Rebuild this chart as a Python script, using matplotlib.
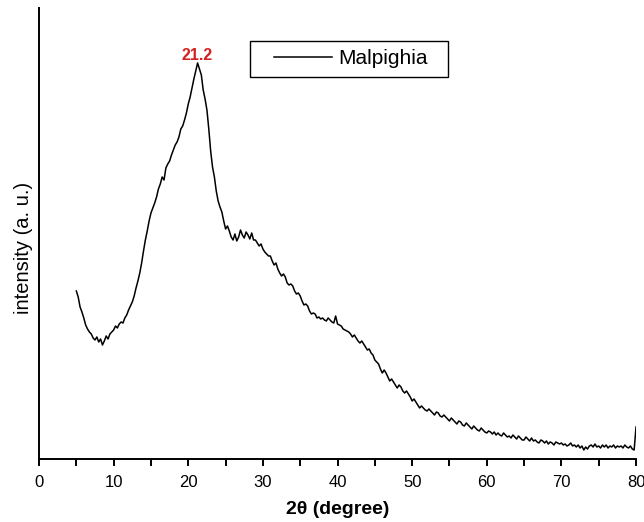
import matplotlib.pyplot as plt
from matplotlib.patches import Rectangle
import numpy as np

# 2theta positions (degree), every 0.25 deg from 5 to 80
two_theta = np.arange(5.0, 80.001, 0.25)

# intensity (a.u.), 4 values per degree
intensity = [
    168, 162, 152, 147,  141, 134, 130, 127,  125, 121, 119, 122,   # 5-7
    117, 120, 114, 118,  123, 120, 125, 127,  129, 133, 131, 135,   # 8-10
    137, 136, 141, 144,  149, 153, 157, 163,  171, 178, 186, 196,   # 11-13
    208, 219, 228, 238,  246, 251, 256, 262,  270, 275, 282, 279,   # 14-16
    291, 295, 298, 304,  309, 314, 317, 322,  330, 333, 339, 346,   # 17-19
    355, 362, 371, 380,  388, 396, 390, 384,  369, 360, 349, 330,   # 20-22
    308, 292, 282, 268,  258, 252, 247, 238,  230, 233, 228, 222,   # 23-25
    219, 225, 218, 222,  229, 224, 221, 227,  224, 220, 226, 219,   # 26-28
    219, 216, 213, 215,  210, 207, 205, 203,  203, 198, 194, 196,   # 29-31
    190, 186, 183, 185,  182, 176, 174, 175,  173, 168, 165, 166,   # 32-34
    163, 158, 154, 155,  153, 148, 145, 146,  145, 141, 142, 140,   # 35-37
    141, 139, 138, 141,  139, 137, 136, 143,  135, 134, 133, 130,   # 38-40
    129, 128, 127, 125,  122, 124, 121, 118,  116, 118, 115, 112,   # 41-43
    109, 110, 106, 104,  99, 97, 95, 90,      86, 89, 86, 82,       # 44-46
    78, 80, 77, 74,      71, 74, 72, 68,      66, 68, 65, 62,       # 47-49
    58, 60, 57, 54,      51, 53, 51, 49,      48, 50, 48, 46,       # 50-52
    44, 47, 46, 43,      42, 44, 42, 40,      38, 41, 39, 37,       # 53-55
    35, 38, 37, 34,      33, 36, 34, 32,      30, 33, 31, 29,       # 56-58
    28, 31, 29, 27,      26, 28, 27, 25,      27, 24, 26, 24,       # 59-61
    23, 26, 24, 22,      23, 21, 24, 22,      20, 23, 21, 19,       # 62-64
    19, 22, 20, 18,      21, 18, 19, 17,      16, 19, 18, 16,       # 65-67
    18, 15, 17, 16,      14, 17, 16, 15,      16, 14, 15, 13,       # 68-70
    14, 16, 13, 14,      12, 14, 11, 13,      9, 12, 10, 13,        # 71-73
    14, 12, 15, 12,      13, 11, 14, 12,      14, 11, 13, 12,       # 74-76
    14, 11, 13, 12,      13, 11, 14, 12,      11, 13, 10, 9,        # 77-79
    32,                                                             # 80
]

peak_x = 21.2
peak_label = "21.2"
series_name = "Malpighia"

fig = plt.figure(figsize=(6.44, 5.22), dpi=100)
ax = fig.add_axes([0.0606, 0.1207, 0.927, 0.864])

ax.plot(two_theta, intensity, color='black', lw=1.1, label=series_name)

ax.set_xlim(0, 80)
ax.set_ylim(0, 451)
ax.set_xticks(np.arange(0, 81, 10))
ax.set_xticks(np.arange(5, 80, 10), minor=True)
ax.set_yticks([])
for side in ['top', 'right']:
    ax.spines[side].set_visible(False)
for side in ['left', 'bottom']:
    ax.spines[side].set_linewidth(1.4)
ax.tick_params(axis='x', which='both', direction='out', length=5, width=1.4)
ax.tick_params(axis='x', labelsize=12, pad=6.5)
for lab in ax.get_xticklabels():
    lab.set_family('Liberation Sans')

ax.set_xlabel("2θ (degree)", fontsize=14, fontweight='bold',
              family='Liberation Sans', labelpad=8)
ax.set_ylabel("intensity (a. u.)", fontsize=14.5, family='Liberation Sans')
ax.yaxis.set_label_coords(-0.01, 0.468)

ax.text(peak_x, 399, peak_label, color='#d42020', fontsize=11.5,
        fontweight='bold', ha='center', va='baseline', family='Liberation Sans')

# legend box
ax.add_patch(Rectangle((0.3534, 0.847), 0.3316, 0.080, transform=ax.transAxes,
                       fill=False, edgecolor='black', lw=1.0))
ax.legend(loc='center', bbox_to_anchor=(0.522, 0.887),
          prop={'family': 'Liberation Sans', 'size': 15},
          handlelength=2.8, handletextpad=0.3, frameon=False,
          borderpad=0, borderaxespad=0)

fig.savefig("out.png", dpi=100)
